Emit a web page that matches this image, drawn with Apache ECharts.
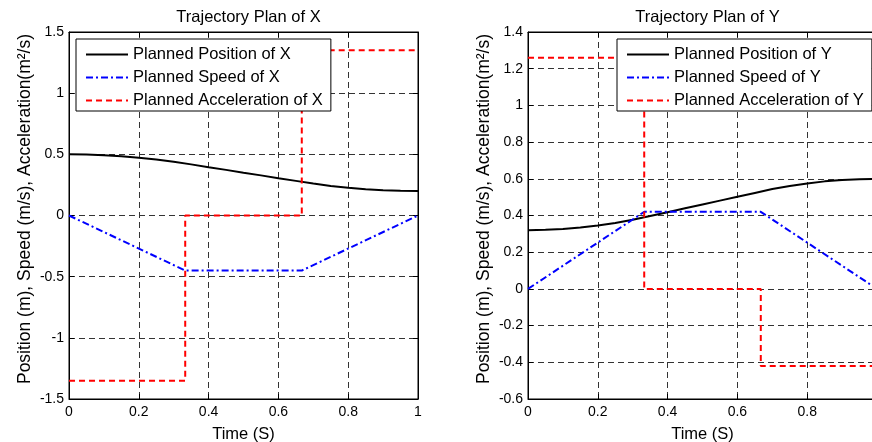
<!DOCTYPE html>
<html>
<head>
<meta charset="utf-8">
<script src="https://cdn.jsdelivr.net/npm/echarts@6/dist/echarts.min.js"></script>
<style>
html,body{margin:0;padding:0;background:#fff;}
#chart{width:872px;height:442px;}
</style>
</head>
<body>
<div id="chart"></div>
<script>
// ---- data ----
var titles = ['Trajectory Plan of X', 'Trajectory Plan of Y'];
var xTicks = [0, 0.2, 0.4, 0.6, 0.8, 1];

var timePos = [0, 0.05, 0.1, 0.15, 0.2, 0.25, 0.3, 0.35, 0.4, 0.45, 0.5, 0.55, 0.6, 0.65, 0.7, 0.75, 0.8, 0.85, 0.9, 0.95, 1];
var posX = [0.5, 0.498, 0.493, 0.485, 0.473, 0.458, 0.439, 0.418, 0.395, 0.373, 0.35, 0.328, 0.305, 0.283, 0.261, 0.242, 0.227, 0.215, 0.207, 0.202, 0.2];
var posY = [0.32, 0.322, 0.326, 0.334, 0.345, 0.359, 0.377, 0.397, 0.418, 0.439, 0.46, 0.481, 0.502, 0.523, 0.544, 0.561, 0.575, 0.586, 0.594, 0.598, 0.6];

var timeSpeed = [0, 0.333, 0.667, 1];
var speedX = [0, -0.45, -0.45, 0];
var speedY = [0, 0.42, 0.42, 0];

var timeAcc = [0, 0.333, 0.333, 0.667, 0.667, 1];
var accX = [-1.35, -1.35, 0, 0, 1.35, 1.35];
var accY = [1.26, 1.26, 0, 0, -0.42, -0.42];

var yRangeX = {min: -1.5, max: 1.5, interval: 0.5};
var yRangeY = {min: -0.6, max: 1.4, interval: 0.2};

var namesX = ['Planned Position of X', 'Planned Speed of X', 'Planned Acceleration of X'];
var namesY = ['Planned Position of Y', 'Planned Speed of Y', 'Planned Acceleration of Y'];
var xName = 'Time (S)';
var yName = 'Position (m), Speed (m/s), Acceleration(m\u00B2/s)';

// ---- build ----
function pairs(t, v) { return t.map(function (x, i) { return [x, v[i]]; }); }

var FONT = 'Liberation Sans, Arial, Helvetica, sans-serif';
var gridDash = [6, 4];

var grids = [
  {left: 69, top: 32, width: 349, height: 367},
  {left: 528, top: 32, width: 349, height: 367}
];

var xAxes = [], yAxes = [], series = [], legends = [], titleArr = [];
var ranges = [yRangeX, yRangeY];
var posArr = [posX, posY], spdArr = [speedX, speedY], accArr = [accX, accY];
var nameArr = [namesX, namesY];
var legendLeft = [76, 617];

for (var g = 0; g < 2; g++) {
  grids[g].show = true;
  grids[g].borderColor = '#000';
  grids[g].borderWidth = 1;
  grids[g].backgroundColor = '#fff';
  grids[g].containLabel = false;
  grids[g].outerBoundsMode = 'none';

  titleArr.push({
    text: titles[g],
    left: grids[g].left + grids[g].width / 2,
    textAlign: 'center',
    top: 4,
    textStyle: {fontFamily: FONT, fontSize: 16.5, fontWeight: 'normal', color: '#000'}
  });

  // bottom x axis
  xAxes.push({
    type: 'value', gridIndex: g, min: 0, max: 1, interval: 0.2, position: 'bottom',
    name: xName, nameLocation: 'middle', nameGap: 27,
    nameTextStyle: {fontFamily: FONT, fontSize: 16.5, color: '#000'},
    axisLine: {show: true, onZero: false, lineStyle: {color: '#000', width: 1}},
    axisTick: {show: true, inside: true, length: 5, lineStyle: {color: '#000'}},
    axisLabel: {fontFamily: FONT, fontSize: 14, color: '#000', margin: 6},
    splitLine: {show: true, lineStyle: {color: '#333', width: 1, type: gridDash}}
  });
  // top x axis (box ticks)
  xAxes.push({
    type: 'value', gridIndex: g, min: 0, max: 1, interval: 0.2, position: 'top',
    axisLine: {show: true, onZero: false, lineStyle: {color: '#000', width: 1}},
    axisTick: {show: true, inside: true, length: 5, lineStyle: {color: '#000'}},
    axisLabel: {show: false}, splitLine: {show: false}
  });
  // left y axis
  yAxes.push({
    type: 'value', gridIndex: g, min: ranges[g].min, max: ranges[g].max, interval: ranges[g].interval,
    position: 'left',
    name: yName, nameLocation: 'middle', nameGap: 35, nameRotate: 90,
    nameTextStyle: {fontFamily: FONT, fontSize: 17.5, color: '#000', padding: [0, 0, 0, 13]},
    axisLine: {show: true, onZero: false, lineStyle: {color: '#000', width: 1}},
    axisTick: {show: true, inside: true, length: 5, lineStyle: {color: '#000'}},
    axisLabel: {fontFamily: FONT, fontSize: 14, color: '#000', margin: 5},
    splitLine: {show: true, lineStyle: {color: '#333', width: 1, type: gridDash}}
  });
  // right y axis (box ticks)
  yAxes.push({
    type: 'value', gridIndex: g, min: ranges[g].min, max: ranges[g].max, interval: ranges[g].interval,
    position: 'right',
    axisLine: {show: true, onZero: false, lineStyle: {color: '#000', width: 1}},
    axisTick: {show: true, inside: true, length: 5, lineStyle: {color: '#000'}},
    axisLabel: {show: false}, splitLine: {show: false}
  });

  var xi = g * 2, yi = g * 2;
  series.push({
    name: nameArr[g][0], type: 'line', xAxisIndex: xi, yAxisIndex: yi,
    data: pairs(timePos, posArr[g]), symbol: 'none', animation: false,
    lineStyle: {color: '#000', width: 2, type: 'solid'}, itemStyle: {color: '#000'}, z: 3
  });
  series.push({
    name: nameArr[g][1], type: 'line', xAxisIndex: xi, yAxisIndex: yi,
    data: pairs(timeSpeed, spdArr[g]), symbol: 'none', animation: false,
    lineStyle: {color: '#0000ff', width: 2, type: [7, 3, 2, 3]}, itemStyle: {color: '#0000ff'}, z: 3
  });
  series.push({
    name: nameArr[g][2], type: 'line', xAxisIndex: xi, yAxisIndex: yi,
    data: pairs(timeAcc, accArr[g]), symbol: 'none', animation: false,
    lineStyle: {color: '#ff0000', width: 2, type: [6, 4]}, itemStyle: {color: '#ff0000'}, z: 3
  });

  legends.push({
    data: nameArr[g], orient: 'vertical', left: legendLeft[g], top: 39,
    padding: [7, 8, 2, 9], itemGap: 6, itemWidth: 42, itemHeight: 14,
    backgroundColor: '#fff', borderColor: '#000', borderWidth: 1, borderRadius: 0,
    selectedMode: false, z: 10,
    itemStyle: {opacity: 0},
    textStyle: {fontFamily: FONT, fontSize: 16.5, color: '#000'}
  });
}

var chart = echarts.init(document.getElementById('chart'), null, {renderer: 'canvas'});
chart.setOption({
  backgroundColor: '#fff',
  animation: false,
  title: titleArr,
  grid: grids,
  xAxis: xAxes,
  yAxis: yAxes,
  legend: legends,
  series: series
});
</script>
</body>
</html>
